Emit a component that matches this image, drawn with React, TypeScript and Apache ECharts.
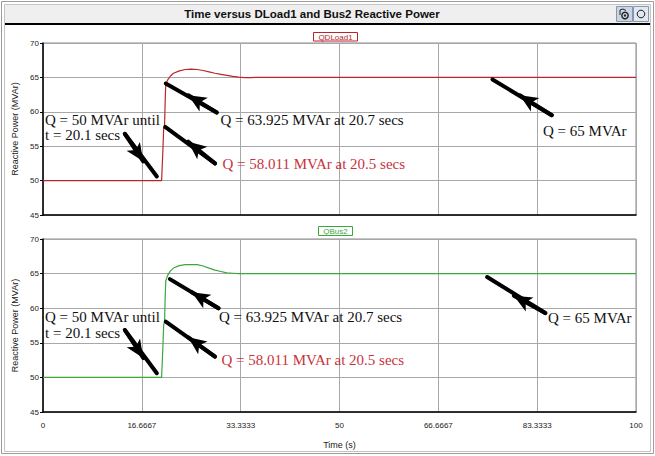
import React, { useEffect, useRef } from "react";
import * as echarts from "echarts";

// ---- data ----
const time = [0, 10, 20, 20.1, 20.2, 20.35, 20.5, 20.6, 20.7, 21, 21.5, 22, 23, 24, 25, 26, 27, 28, 29, 30, 31, 32, 33, 34, 35, 36, 40, 50, 60, 70, 80, 90, 100];
const qdload1 = [50, 50, 50, 50, 54, 57.6, 58.011, 61.5, 63.925, 64.6, 65.2, 65.6, 65.95, 66.15, 66.2, 66.15, 66.0, 65.8, 65.6, 65.45, 65.3, 65.15, 65.05, 64.97, 64.98, 65.0, 65, 65, 65, 65, 65, 65, 65];
const qbus2 = [50, 50, 50, 50, 54, 57.6, 58.011, 61.5, 63.925, 64.7, 65.4, 65.8, 66.15, 66.3, 66.3, 66.3, 66.1, 65.8, 65.5, 65.3, 65.1, 65.05, 65.0, 65.0, 65.0, 65.0, 65, 65, 65, 65, 65, 65, 65];
const yMin = 45;
const yMax = 70;
const yStep = 5;
const xMin = 0;
const xMax = 100;
const xStep = 100 / 6;

// annotation arrows in data coordinates: tail, arrow-head, tip
const arrowsTop = [
  { tail: [13.8, 56.8], head: [16.9, 52.8], tip: [19.2, 50.6] },
  { tail: [29.3, 59.9], head: [24.5, 62.4], tip: [20.7, 64.1] },
  { tail: [29.0, 52.5], head: [24.5, 55.65], tip: [20.6, 57.8] },
  { tail: [85.8, 59.5], head: [80.4, 62.4], tip: [75.8, 64.7] },
];
const arrowsBottom = [
  { tail: [13.8, 56.85], head: [16.9, 52.8], tip: [19.2, 50.6] },
  { tail: [29.6, 60.0], head: [25.1, 62.3], tip: [21.4, 64.2] },
  { tail: [29.0, 53.0], head: [24.5, 55.8], tip: [20.7, 58.05] },
  { tail: [84.7, 59.3], head: [79.4, 61.8], tip: [74.9, 64.5] },
];

const RED = "#b8262c";
const GREEN = "#3aa83a";
const TXT_RED = "#c8323c";
const SERIF = "'Liberation Serif', 'Times New Roman', serif";
const SANS = "'Liberation Sans', Arial, sans-serif";

function arrowLines(list: { tail: number[]; head: number[]; tip: number[] }[]) {
  const out: any[] = [];
  list.forEach((a) => {
    out.push([
      { coord: a.tail, symbol: "none" },
      { coord: a.tip, symbol: "none" },
    ]);
    out.push([
      { coord: a.tail, symbol: "none" },
      { coord: a.head, symbol: "arrow", symbolSize: [12, 18] },
    ]);
  });
  return out;
}

function fmtX(v: number) {
  return String(Math.round(v * 10000) / 10000);
}

export default function App() {
  const ref = useRef<HTMLDivElement>(null);
  useEffect(() => {
    if (!ref.current) return;
    const chart = echarts.init(ref.current, undefined, { renderer: "svg" });

    const yAxisBase = (gi: number) => ({
      gridIndex: gi,
      type: "value",
      min: yMin,
      max: yMax,
      interval: yStep,
      axisLine: { show: true, lineStyle: { color: "#000", width: 1.5 } },
      axisTick: { show: true, length: 3, lineStyle: { color: "#000" } },
      axisLabel: { fontSize: 8, color: "#222", margin: 4, fontFamily: SANS },
      splitLine: { show: true, lineStyle: { color: "#a8a8a8", width: 1 } },
      name: "Reactive Power (MVAr)",
      nameLocation: "middle",
      nameGap: 22,
      nameTextStyle: { fontSize: 9, color: "#222", fontFamily: SANS },
    });

    const xAxisBase = (gi: number, labels: boolean) => ({
      gridIndex: gi,
      type: "value",
      min: xMin,
      max: xMax,
      interval: xStep,
      axisLine: { show: true, onZero: false, lineStyle: { color: "#000", width: 1.5 } },
      axisTick: { show: false },
      axisLabel: labels
        ? { show: true, fontSize: 8, color: "#222", margin: 9, fontFamily: SANS, formatter: fmtX }
        : { show: false },
      splitLine: { show: true, lineStyle: { color: "#a8a8a8", width: 1 } },
      ...(labels
        ? {
            name: "Time (s)",
            nameLocation: "middle",
            nameGap: 28,
            nameTextStyle: { fontSize: 9, color: "#222", fontFamily: SANS },
          }
        : {}),
    });

    const mkLine = (list: any) => ({
      silent: true,
      animation: false,
      symbol: ["none", "none"],
      label: { show: false },
      emphasis: { disabled: true },
      lineStyle: { color: "#000", width: 4, type: "solid", opacity: 1, cap: "round" },
      itemStyle: { color: "#000" },
      data: arrowLines(list),
    });

    const txt = (x: number, y: number, s: string, color = "#111") => ({
      type: "text",
      x,
      y,
      z: 100,
      style: { text: s, fill: color, font: `15px ${SERIF}`, verticalAlign: "middle" },
    });

    const option: any = {
      animation: false,
      backgroundColor: "#fff",
      grid: [
        { left: 43, right: 19, top: 43, height: 172, show: true, borderColor: "#888", borderWidth: 1, backgroundColor: "#fff" },
        { left: 43, right: 19, top: 239, height: 173, show: true, borderColor: "#888", borderWidth: 1, backgroundColor: "#fff" },
      ],
      xAxis: [xAxisBase(0, false), xAxisBase(1, true)],
      yAxis: [yAxisBase(0), yAxisBase(1)],
      series: [
        {
          type: "line",
          name: "QDLoad1",
          xAxisIndex: 0,
          yAxisIndex: 0,
          showSymbol: false,
          symbol: "none",
          lineStyle: { color: RED, width: 1.2 },
          data: time.map((t, i) => [t, qdload1[i]]),
          markLine: mkLine(arrowsTop),
        },
        {
          type: "line",
          name: "QBus2",
          xAxisIndex: 1,
          yAxisIndex: 1,
          showSymbol: false,
          symbol: "none",
          lineStyle: { color: GREEN, width: 1.2 },
          data: time.map((t, i) => [t, qbus2[i]]),
          markLine: mkLine(arrowsBottom),
        },
      ],
      graphic: [
        // window frame
        { type: "rect", shape: { x: 1.5, y: 1.5, width: 652, height: 452 }, style: { fill: "none", stroke: "#9c9c9c", lineWidth: 1 } },
        { type: "rect", shape: { x: 4.5, y: 4.5, width: 646, height: 447 }, style: { fill: "none", stroke: "#c4c4c4", lineWidth: 1 } },
        // title bar
        { type: "rect", shape: { x: 5, y: 5, width: 645, height: 18 }, style: { fill: "#efefef" } },
        { type: "line", shape: { x1: 5, y1: 24, x2: 650, y2: 24 }, style: { stroke: "#000", lineWidth: 2 } },
        {
          type: "text",
          x: 312,
          y: 14,
          style: { text: "Time versus DLoad1 and Bus2 Reactive Power", fill: "#111", font: `bold 11.5px ${SANS}`, align: "center", verticalAlign: "middle" },
        },
        // buttons
        { type: "rect", shape: { x: 616.5, y: 6.5, width: 16, height: 15 }, style: { fill: "#c9d5e3", stroke: "#8797ad", lineWidth: 1 } },
        { type: "circle", shape: { cx: 625, cy: 15.5, r: 3.2 }, style: { fill: "none", stroke: "#222", lineWidth: 1.4 } },
        { type: "circle", shape: { cx: 625, cy: 15.5, r: 1.2 }, style: { fill: "#222" } },
        { type: "polyline", shape: { points: [[620, 15], [620, 10], [623, 9], [626, 10.5]] }, style: { fill: "none", stroke: "#222", lineWidth: 1 } },
        { type: "rect", shape: { x: 633.5, y: 6.5, width: 15, height: 15 }, style: { fill: "#e2e8ef", stroke: "#8797ad", lineWidth: 1 } },
        { type: "circle", shape: { cx: 641, cy: 14, r: 3.8 }, style: { fill: "none", stroke: "#222", lineWidth: 1 } },
        // series labels
        { type: "rect", shape: { x: 313.5, y: 32.5, width: 44, height: 8.5 }, style: { fill: "#fff", stroke: RED, lineWidth: 1 } },
        { type: "text", x: 335.5, y: 37, style: { text: "QDLoad1", fill: RED, font: `8px ${SANS}`, align: "center", verticalAlign: "middle" } },
        { type: "rect", shape: { x: 318.5, y: 226.5, width: 34, height: 9 }, style: { fill: "#fff", stroke: GREEN, lineWidth: 1 } },
        { type: "text", x: 335.5, y: 231, style: { text: "QBus2", fill: GREEN, font: `8px ${SANS}`, align: "center", verticalAlign: "middle" } },
        // annotations, top
        txt(45, 120, "Q = 50 MVAr until"),
        txt(45, 135, "t = 20.1 secs"),
        txt(220.5, 120, "Q = 63.925 MVAr at 20.7 secs"),
        txt(222.5, 164, "Q = 58.011 MVAr at 20.5 secs", TXT_RED),
        txt(543, 130.5, "Q = 65 MVAr"),
        // annotations, bottom
        txt(45, 316.5, "Q = 50 MVAr until"),
        txt(45, 333, "t = 20.1 secs"),
        txt(219, 316.5, "Q = 63.925 MVAr at 20.7 secs"),
        txt(221.5, 359.5, "Q = 58.011 MVAr at 20.5 secs", TXT_RED),
        txt(548, 318, "Q = 65 MVAr"),
      ],
    };
    chart.setOption(option);
    return () => chart.dispose();
  }, []);
  return <div ref={ref} style={{ position: "absolute", left: 0, top: 0, width: 655, height: 456 }} />;
}
